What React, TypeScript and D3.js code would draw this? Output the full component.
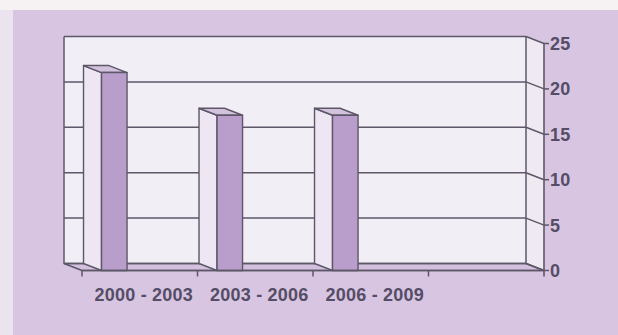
import React from "react";
import * as d3 from "d3";

// Chart data
const categories: string[] = ["2000 - 2003", "2003 - 2006", "2006 - 2009", ""];
const values: number[] = [21.8, 17.1, 17.1];
const yTicks: number[] = [0, 5, 10, 15, 20, 25];

const W = 618;
const H = 335;

// Oblique depth offset of the 3D box (front = back + depth)
const DX = 18;
const DY = 7;

const INK = "#5d5768";
const TEXT = "#554d66";

export default function App() {
  // Front plane scales
  const x = d3.scaleBand<string>().domain(categories).range([82, 544]).padding(0);
  const y = d3.scaleLinear().domain([0, 25]).range([270.5, 43.5]);

  const frontLeft = x.range()[0];
  const frontRight = x.range()[1];
  const backLeft = frontLeft - DX;
  const backRight = frontRight - DX;
  const yb = (v: number) => y(v) - DY; // back plane

  const bw = x.bandwidth();
  const barOffset = bw * 0.169;
  const barWidth = bw * 0.221;

  const pts = (p: [number, number][]) => p.map((q) => q.join(",")).join(" ");

  return (
    <svg
      width={W}
      height={H}
      viewBox={`0 0 ${W} ${H}`}
      style={{ position: "absolute", left: 0, top: 0, display: "block" }}
      fontFamily="'Liberation Sans', Arial, sans-serif"
    >
      {/* page and panel */}
      <rect x={0} y={0} width={W} height={H} fill="#f6f2f3" />
      <rect x={0} y={10} width={13} height={H - 10} fill="#ebe3ee" />
      <rect x={13} y={10} width={W - 13} height={H - 10} fill="#d7c5e2" />

      {/* back wall */}
      <rect
        x={backLeft}
        y={yb(25)}
        width={backRight - backLeft}
        height={yb(0) - yb(25)}
        fill="#f2eef5"
      />
      {/* side wall */}
      <polygon
        points={pts([
          [backRight, yb(25)],
          [frontRight, y(25)],
          [frontRight, y(0)],
          [backRight, yb(0)],
        ])}
        fill="#efe9f2"
      />
      {/* floor */}
      <polygon
        points={pts([
          [backLeft, yb(0)],
          [backRight, yb(0)],
          [frontRight, y(0)],
          [frontLeft, y(0)],
        ])}
        fill="#d2c0de"
        stroke={INK}
        strokeWidth={1.5}
        strokeLinejoin="round"
      />

      {/* gridlines on back wall and side wall */}
      {yTicks.map((t) => (
        <g key={`g${t}`}>
          <line x1={backLeft} x2={backRight} y1={yb(t)} y2={yb(t)} stroke={INK} strokeWidth={1.5} />
          <line x1={backRight} x2={frontRight} y1={yb(t)} y2={y(t)} stroke={INK} strokeWidth={1.5} />
        </g>
      ))}

      {/* wall edges */}
      <line x1={backLeft} x2={backLeft} y1={yb(25)} y2={yb(0)} stroke={INK} strokeWidth={1.5} />
      <line x1={backRight} x2={backRight} y1={yb(25)} y2={yb(0)} stroke={INK} strokeWidth={1.5} />

      {/* bars */}
      {values.map((v, i) => {
        const fx = (x(categories[i]) as number) + barOffset; // front face left
        const bx = fx - DX; // back face left
        const top = y(v);
        const base = y(0);
        return (
          <g key={`b${i}`} stroke={INK} strokeWidth={1.4} strokeLinejoin="round">
            {/* left side face */}
            <polygon
              points={pts([
                [bx, yb(v)],
                [fx, top],
                [fx, base],
                [bx, yb(0)],
              ])}
              fill="#eee7f3"
            />
            {/* top face */}
            <polygon
              points={pts([
                [bx, yb(v)],
                [bx + barWidth, yb(v)],
                [fx + barWidth, top],
                [fx, top],
              ])}
              fill="#d3c2de"
            />
            {/* front face */}
            <rect x={fx} y={top} width={barWidth} height={base - top} fill="#b99ecc" />
          </g>
        );
      })}

      {/* category axis */}
      <line x1={frontLeft} x2={frontRight} y1={y(0)} y2={y(0)} stroke={INK} strokeWidth={1.6} />
      {categories.map((c, i) => (
        <line
          key={`ct${i}`}
          x1={x(c) as number}
          x2={x(c) as number}
          y1={y(0)}
          y2={y(0) + 6}
          stroke={INK}
          strokeWidth={1.5}
        />
      ))}
      {categories.map((c, i) => (
        <text
          key={`cl${i}`}
          x={(x(c) as number) + bw / 2 + 4}
          y={300.5}
          textAnchor="middle"
          fontSize={18}
          fontWeight="bold"
          letterSpacing={0.2}
          fill={TEXT}
        >
          {c}
        </text>
      ))}

      {/* value axis */}
      <line x1={frontRight} x2={frontRight} y1={y(25)} y2={y(0) + 6} stroke={INK} strokeWidth={1.6} />
      {yTicks.map((t) => (
        <g key={`yt${t}`}>
          <line x1={frontRight} x2={frontRight + 5} y1={y(t)} y2={y(t)} stroke={INK} strokeWidth={1.5} />
          <text
            x={frontRight + 6}
            y={y(t)}
            dy="0.36em"
            fontSize={18}
            fontWeight="bold"
            letterSpacing={0.2}
            fill={TEXT}
          >
            {t}
          </text>
        </g>
      ))}
    </svg>
  );
}
